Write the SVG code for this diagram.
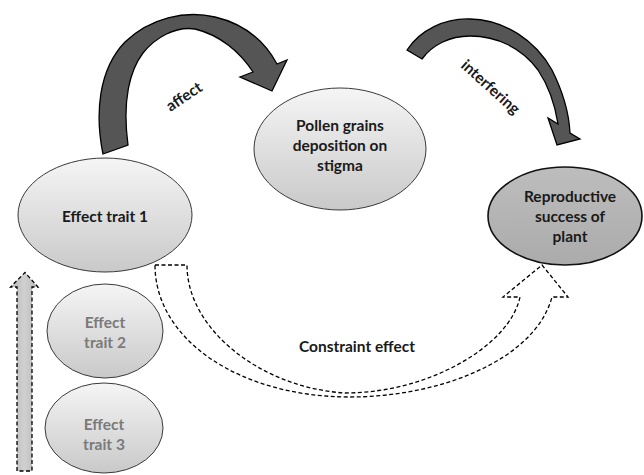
<svg xmlns="http://www.w3.org/2000/svg" width="644" height="475" viewBox="0 0 644 475">
  <defs>
    <linearGradient id="gLight" x1="0" y1="0" x2="0" y2="1">
      <stop offset="0" stop-color="#f5f5f5"/>
      <stop offset="1" stop-color="#c9c9c9"/>
    </linearGradient>
    <linearGradient id="gDark" x1="0" y1="0" x2="0" y2="1">
      <stop offset="0" stop-color="#bdbdbd"/>
      <stop offset="1" stop-color="#ababab"/>
    </linearGradient>
    <linearGradient id="gBar" x1="0" y1="0" x2="1" y2="0">
      <stop offset="0" stop-color="#b8b8b8"/>
      <stop offset="0.5" stop-color="#d0d0d0"/>
      <stop offset="1" stop-color="#b8b8b8"/>
    </linearGradient>
    <style>
      .node { fill: url(#gLight); stroke: #3a3a3a; stroke-width: 1; }
      .nodeDark { fill: url(#gDark); stroke: #111; stroke-width: 1.6; }
      .t { font-family: Lato, "Liberation Sans", sans-serif; font-weight: bold; font-size: 15.5px; fill: #1a1a1a; text-anchor: middle; }
      .tg { fill: #7a7a7a; }
      .solidArrow { fill: #555555; stroke: #000; stroke-width: 1.3; stroke-linejoin: miter; }
      .dashArrow { fill: #ffffff; stroke: #000; stroke-width: 1.3; stroke-dasharray: 4 2.5; }
    </style>
  </defs>
  <rect width="644" height="475" fill="#ffffff"/>

  <g id="connectors">
    <g id="affect-arrow">
      <path class="solidArrow" d="M103,154 C95,115 98,70 125,42 C150,18 185,10 215,17 C245,24 265,42 277,64 L287,60 L272,91 L240,77 L253,72 C240,52 220,35 195,29 C175,26 155,38 143,53 C130,70 122,100 128,145 Z"/>
      <text class="t" transform="translate(187,101) rotate(-34)">affect</text>
    </g>
    <g id="interfering-arrow">
      <path class="solidArrow" d="M407,50 C420,30 445,18 470,19 C505,20 535,40 552,70 C563,92 569,112 570,133 L580,139 L557,145 L548,118 L558,124 C555,105 548,85 538,70 C522,48 497,36 470,36 C450,36 432,45 422,59 Z"/>
      <text class="t" transform="translate(487,91) rotate(42)">interfering</text>
    </g>
    <g id="constraint-arrow">
      <path class="dashArrow" d="M155,265 L187,265 C187,330 262,388 345,393 C430,393 510,345 520,297 L503,297 L542,265 L568,297 L552,297 C535,360 440,397 350,397 C240,397 155,340 155,265 Z"/>
      <text class="t" x="357" y="352">Constraint effect</text>
    </g>
    <g id="trait-order-arrow">
      <path class="dashArrow" style="fill:url(#gBar)" d="M17,471 L17,287 L10.5,287 L25,272.5 L38,287 L32,287 L32,471 Z"/>
    </g>
  </g>

  <g id="effect-trait-1">
    <ellipse class="node" cx="105" cy="215" rx="87" ry="57"/>
    <text class="t" x="105" y="222">Effect trait 1</text>
  </g>
  <g id="effect-trait-2">
    <ellipse class="node" cx="105" cy="331" rx="58" ry="47"/>
    <text class="t tg" x="105" y="328">Effect</text>
    <text class="t tg" x="105" y="348">trait 2</text>
  </g>
  <g id="effect-trait-3">
    <ellipse class="node" cx="104" cy="428" rx="59" ry="45"/>
    <text class="t tg" x="104" y="430">Effect</text>
    <text class="t tg" x="104" y="450">trait 3</text>
  </g>
  <g id="pollen">
    <ellipse class="node" cx="340" cy="149" rx="86" ry="61"/>
    <text class="t" x="340" y="131">Pollen grains</text>
    <text class="t" x="340" y="151">deposition on</text>
    <text class="t" x="340" y="171">stigma</text>
  </g>
  <g id="reproductive">
    <ellipse class="nodeDark" cx="565" cy="216" rx="77" ry="49"/>
    <text class="t" x="570" y="202">Reproductive</text>
    <text class="t" x="570" y="222">success of</text>
    <text class="t" x="570" y="242">plant</text>
  </g>
</svg>
